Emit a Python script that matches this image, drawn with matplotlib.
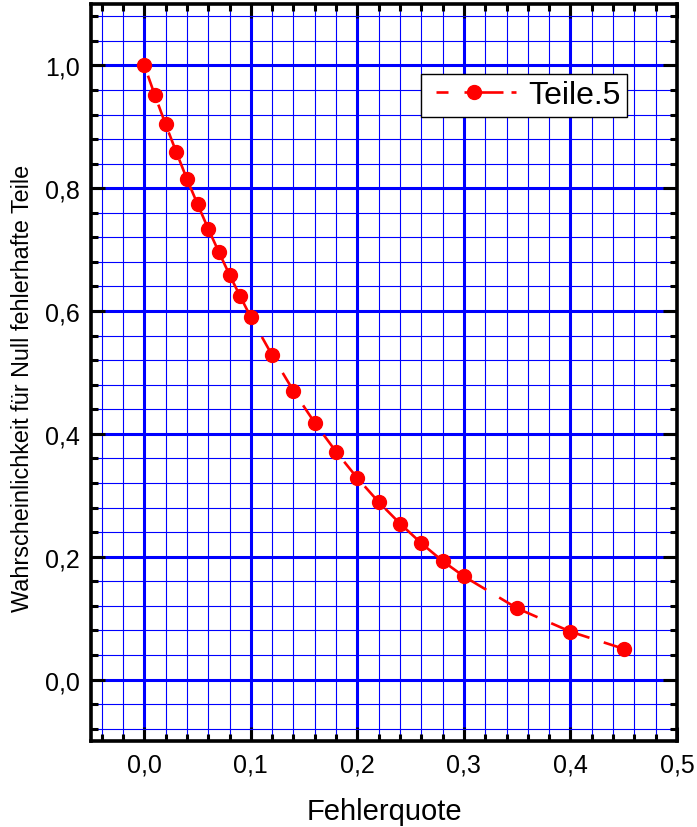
import matplotlib.pyplot as plt
import numpy as np
from matplotlib.ticker import MultipleLocator, FuncFormatter
from matplotlib.lines import Line2D

plt.rcParams['font.family'] = ['Liberation Sans', 'DejaVu Sans']

# Fehlerquote vs. Wahrscheinlichkeit fuer 0 fehlerhafte Teile (n=5)
fehlerquote = [0.0, 0.01, 0.02, 0.03, 0.04, 0.05, 0.06, 0.07, 0.08, 0.09, 0.10,
               0.12, 0.14, 0.16, 0.18, 0.20, 0.22, 0.24, 0.26, 0.28, 0.30,
               0.35, 0.40, 0.45]
teile5 = [1.000, 0.951, 0.904, 0.859, 0.815, 0.774, 0.734, 0.696, 0.659, 0.624, 0.590,
          0.528, 0.470, 0.418, 0.371, 0.328, 0.289, 0.254, 0.222, 0.193, 0.168,
          0.116, 0.078, 0.050]

rot = '#ff0000'
lw = 1.9
px = 72 / 100 / lw  # pixel -> dash units (dashes scale with linewidth)

fig = plt.figure(figsize=(6.97, 8.28), dpi=100)
ax = fig.add_axes([0.1306, 0.1039, 0.8407, 0.8901])

ax.set_xlim(-0.05, 0.5)
ax.set_ylim(-0.1, 1.1)

ax.xaxis.set_major_locator(MultipleLocator(0.1))
ax.xaxis.set_minor_locator(MultipleLocator(0.02))
ax.yaxis.set_major_locator(MultipleLocator(0.2))
ax.yaxis.set_minor_locator(MultipleLocator(0.04))

komma = FuncFormatter(lambda v, pos: f"{v:.1f}".replace('.', ','))
ax.xaxis.set_major_formatter(komma)
ax.yaxis.set_major_formatter(komma)

ax.grid(which='major', color='#0000ff', linewidth=2.2)
ax.grid(which='minor', color='#0000ff', linewidth=0.8)
ax.set_axisbelow(True)

ax.tick_params(which='both', direction='in', top=True, right=True, color='black')
ax.tick_params(which='major', length=10, width=2.2, labelsize=18, pad=8)
ax.tick_params(which='minor', length=5, width=2.2)

for s in ax.spines.values():
    s.set_linewidth(2.6)
    s.set_zorder(5)

# Origin-artig: Strichmuster beginnt an jedem Segment neu (vom Endpunkt aus)
seg_style = (0, (21 * px, 15 * px))
for i in range(len(fehlerquote) - 1):
    ax.plot([fehlerquote[i + 1], fehlerquote[i]], [teile5[i + 1], teile5[i]],
            color=rot, linewidth=lw, linestyle=seg_style, zorder=3)
ax.plot(fehlerquote, teile5, linestyle='none', marker='o', markersize=10,
        color=rot, zorder=4)

ax.set_xlabel('Fehlerquote', fontsize=21)
ax.xaxis.set_label_coords(0.5, (742 - 820) / 737)
ax.xaxis.label.set_va('baseline')
ax.set_ylabel('Wahrscheinlichkeit für Null fehlerhafte Teile', fontsize=16.8)
ax.yaxis.set_label_coords((22 - 91) / 586, 0.480)
ax.yaxis.label.set_va('center')

# Legendensymbol: - -o- -
handle_dash = [12 * px, 16 * px, 39 * px, 8 * px, 5 * px, 13 * px]
handle = Line2D([], [], color=rot, linewidth=lw, linestyle=(85 * px, handle_dash),
                marker='o', markersize=10)
leg = ax.legend([handle], ['Teile.5'], loc='upper right', bbox_to_anchor=(0.915, 0.905),
                fontsize=23, handlelength=2.9, frameon=True, fancybox=False, framealpha=1,
                borderpad=0.2, handletextpad=0.25, borderaxespad=0)
leg.get_frame().set_edgecolor('black')
leg.get_frame().set_linewidth(1)

fig.savefig('out.png', dpi=100)
